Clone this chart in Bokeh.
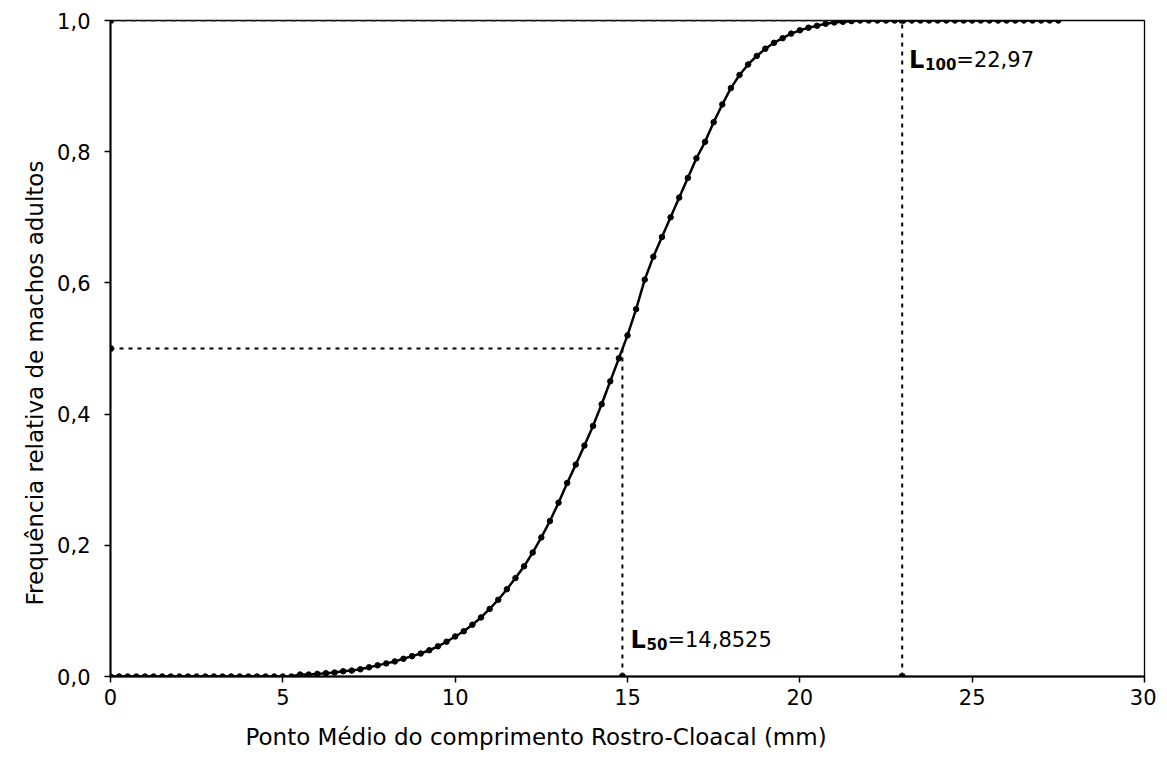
from bokeh.plotting import figure
from bokeh.models import Range1d, FixedTicker, CustomJSTickFormatter, Title
from bokeh.core.properties import value
from bokeh.embed import file_html
from bokeh.resources import INLINE

# ---- data ----
x_mid = [0.0, 0.25, 0.5, 0.75, 1.0, 1.25, 1.5, 1.75, 2.0, 2.25, 2.5, 2.75,
         3.0, 3.25, 3.5, 3.75, 4.0, 4.25, 4.5, 4.75, 5.0, 5.25, 5.5, 5.75,
         6.0, 6.25, 6.5, 6.75, 7.0, 7.25, 7.5, 7.75, 8.0, 8.25, 8.5, 8.75,
         9.0, 9.25, 9.5, 9.75, 10.0, 10.25, 10.5, 10.75, 11.0, 11.25, 11.5, 11.75,
         12.0, 12.25, 12.5, 12.75, 13.0, 13.25, 13.5, 13.75, 14.0, 14.25, 14.5, 14.75,
         15.0, 15.25, 15.5, 15.75, 16.0, 16.25, 16.5, 16.75, 17.0, 17.25, 17.5, 17.75,
         18.0, 18.25, 18.5, 18.75, 19.0, 19.25, 19.5, 19.75, 20.0, 20.25, 20.5, 20.75,
         21.0, 21.25, 21.5, 21.75, 22.0, 22.25, 22.5, 22.75, 23.0, 23.25, 23.5, 23.75,
         24.0, 24.25, 24.5, 24.75, 25.0, 25.25, 25.5, 25.75, 26.0, 26.25, 26.5, 26.75,
         27.0, 27.25, 27.5]
freq = [0.0, 0.0, 0.0, 0.0, 0.0, 0.0, 0.0, 0.0, 0.0, 0.0, 0.0, 0.0,
        0.0, 0.0, 0.0, 0.0, 0.0, 0.0, 0.0, 0.0, 0.0, 0.0, 0.003, 0.003,
        0.004, 0.005, 0.006, 0.008, 0.009, 0.011, 0.014, 0.017, 0.020, 0.023, 0.027, 0.031,
        0.035, 0.040, 0.046, 0.053, 0.061, 0.069, 0.079, 0.090, 0.103, 0.117, 0.133, 0.150,
        0.168, 0.189, 0.212, 0.237, 0.265, 0.295, 0.323, 0.352, 0.382, 0.415, 0.450, 0.485,
        0.520, 0.560, 0.605, 0.640, 0.670, 0.700, 0.730, 0.760, 0.790, 0.815, 0.845, 0.872,
        0.897, 0.917, 0.933, 0.946, 0.957, 0.966, 0.973, 0.980, 0.985, 0.989, 0.992, 0.995,
        0.997, 0.998, 0.999, 1.0, 1.0, 1.0, 1.0, 1.0, 1.0, 1.0, 1.0, 1.0,
        1.0, 1.0, 1.0, 1.0, 1.0, 1.0, 1.0, 1.0, 1.0, 1.0, 1.0, 1.0,
        1.0, 1.0, 1.0]

L50 = 14.8525
L100 = 22.97
x_ticks = [0, 5, 10, 15, 20, 25, 30]
y_ticks = [0.0, 0.2, 0.4, 0.6, 0.8, 1.0]
x_title = "Ponto Médio do comprimento Rostro-Cloacal (mm)"
y_title = "Frequência relativa de machos adultos"

FONT = "DejaVu Sans"

p = figure(frame_width=1034, frame_height=656, output_backend="svg",
           toolbar_location=None, x_range=Range1d(0, 30), y_range=Range1d(0, 1),
           min_border_left=110, min_border_top=20, min_border_right=12,
           min_border_bottom=88)
p.background_fill_color = "white"
p.border_fill_color = "white"
p.outline_line_color = "black"
p.outline_line_width = 1.3
p.xgrid.visible = False
p.ygrid.visible = False

for ax in (p.xaxis, p.yaxis):
    ax.axis_line_color = "black"
    ax.axis_line_width = 2
    ax.major_tick_line_color = "black"
    ax.major_tick_line_width = 1.5
    ax.major_tick_out = 6
    ax.major_tick_in = 0
    ax.minor_tick_line_color = None
    ax.major_label_text_font = FONT
    ax.major_label_text_font_size = "21px"
    ax.major_label_text_color = "black"

p.xaxis.ticker = FixedTicker(ticks=x_ticks)
p.yaxis.ticker = FixedTicker(ticks=y_ticks)
p.yaxis.formatter = CustomJSTickFormatter(code="return tick.toFixed(1).replace('.', ',');")
p.xaxis.major_label_standoff = 6
p.yaxis.major_label_standoff = 14

# axis titles (placed off-centre like the reference)
p.add_layout(Title(text=x_title, align="left", offset=135, standoff=28,
                   text_font=FONT, text_font_size="23px", text_font_style="normal",
                   text_color="black"), "below")
p.add_layout(Title(text=y_title, align="left", offset=71, standoff=10,
                   vertical_align="top",
                   text_font=FONT, text_font_size="23px", text_font_style="normal",
                   text_color="black"), "left")

# dotted reference lines
dash = dict(line_color="black", line_width=2, line_dash="4 5")
p.line([0, L50], [0.5, 0.5], **dash)
p.line([L50, L50], [0, 0.5], **dash)
p.line([L100, L100], [0, 1.0], **dash)
p.line([0, L100], [1.0, 1.0], line_color="#444444", line_width=2, line_dash="6 4")
p.scatter([0, L50, 0, L100, L100], [0.5, 0, 1.0, 0, 1.0], marker="square",
          size=5, color="black")

# curve
p.line(x_mid, freq, line_color="black", line_width=2.5)
p.scatter(x_mid, freq, marker="circle", size=5.5, color="black")

# annotations
def label(x, y, sub, rest):
    p.text([x], [y], text=["L"], text_font=value(FONT), text_font_size="24px",
           text_font_style="bold", text_color="black", text_baseline="alphabetic")
    p.text([x], [y], text=[sub], x_offset=16, y_offset=4, text_font=value(FONT),
           text_font_size="15px", text_font_style="bold", text_color="black",
           text_baseline="alphabetic")
    off = 16 + 10.4 * len(sub)
    p.text([x], [y], text=[rest], x_offset=off, text_font=value(FONT),
           text_font_size="21px", text_color="black", text_baseline="alphabetic")

label(23.17, 0.94, "100", "=22,97")
label(15.09, 0.056, "50", "=14,8525")

open("out.html", "w").write(file_html(p, INLINE))
